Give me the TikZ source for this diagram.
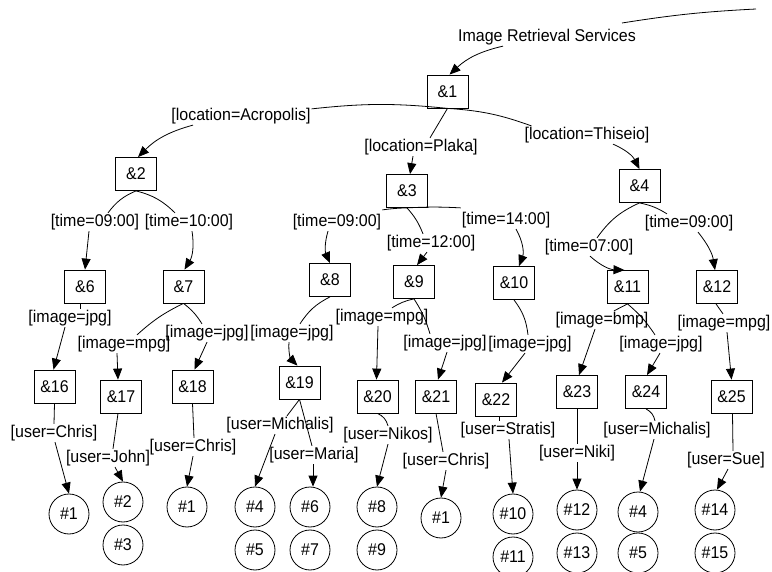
\documentclass[tikz,border=0pt]{standalone}
\usepackage{fontspec}
\setmainfont{Liberation Sans}[FakeStretch=0.94]
\usetikzlibrary{arrows.meta}

\begin{document}
\begin{tikzpicture}[x=1pt,y=1pt,
  every node/.style={font=\fontsize{17}{20}\selectfont},
  obj/.style={draw,line width=0.8pt,minimum width=41pt,minimum height=33pt,inner sep=0pt},
  res/.style={draw,circle,line width=0.8pt,minimum size=40pt,inner sep=0pt},
  lab/.style={inner sep=1pt},
  link/.style={line width=0.8pt},
  arr/.style={line width=0.8pt,-{Triangle[length=11pt,width=9pt]}}]
\fill[white] (0,0) rectangle (772,-572);
\clip (0,0) rectangle (772,-572);

% service root and first level
\coordinate (up1) at (622,-23);
\coordinate (up2) at (756,-9);
\node[lab] (top) at (547,-37) {Image Retrieval Services};
\node[obj] (o1) at (447.5,-91.5) {\&1};
\node[lab] (acro) at (241,-116) {[location=Acropolis]};
\node[lab] (plaka) at (421,-147) {[location=Plaka]};
\node[lab] (thiseio) at (587,-135) {[location=Thiseio]};
\node[obj] (o2) at (136,-174) {\&2};
\node[obj] (o3) at (407,-191) {\&3};
\node[obj] (o4) at (639.5,-186) {\&4};

% time level
\node[lab] (l2a) at (95,-222) {[time=09:00]};
\node[lab] (l2b) at (189,-222) {[time=10:00]};
\node[lab] (l3a) at (337,-222) {[time=09:00]};
\node[lab] (l3b) at (431,-243) {[time=12:00]};
\node[lab] (l3c) at (506,-220) {[time=14:00]};
\node[lab] (l4a) at (589,-247) {[time=07:00]};
\node[lab] (l4b) at (689,-223) {[time=09:00]};
\node[obj] (o6) at (85,-286.5) {\&6};
\node[obj] (o7) at (183.5,-286.5) {\&7};
\node[obj] (o8) at (330,-280) {\&8};
\node[obj] (o9) at (414,-282) {\&9};
\node[obj] (o10) at (514,-283) {\&10};
\node[obj] (o11) at (627.5,-287) {\&11};
\node[obj] (o12) at (717,-287) {\&12};

% image level
\node[lab] (l6) at (70,-318) {[image=jpg]};
\node[lab] (l7a) at (124,-344) {[image=mpg]};
\node[lab] (l7b) at (207,-333) {[image=jpg]};
\node[lab] (l8) at (292,-333) {[image=jpg]};
\node[lab] (l9a) at (382,-317) {[image=mpg]};
\node[lab] (l9b) at (445,-343) {[image=jpg]};
\node[lab] (l10) at (530,-344) {[image=jpg]};
\node[lab] (l11a) at (602,-320) {[image=bmp]};
\node[lab] (l11b) at (661,-344) {[image=jpg]};
\node[lab] (l12) at (724,-323) {[image=mpg]};
\node[obj] (o16) at (54.5,-386.5) {\&16};
\node[obj] (o17) at (121,-396.5) {\&17};
\node[obj] (o18) at (192.5,-386.5) {\&18};
\node[obj] (o19) at (299.5,-382.5) {\&19};
\node[obj] (o20) at (377.5,-396.5) {\&20};
\node[obj] (o21) at (436,-396.5) {\&21};
\node[obj] (o22) at (496,-399.5) {\&22};
\node[obj] (o23) at (577,-392) {\&23};
\node[obj] (o24) at (646,-392) {\&24};
\node[obj] (o25) at (731.5,-396.5) {\&25};

% user level and the images found
\node[lab] (l16) at (54,-433) {[user=Chris]};
\node[lab] (l17) at (108,-458) {[user=John]};
\node[lab] (l18) at (193,-447) {[user=Chris]};
\node[lab] (l19a) at (280,-425) {[user=Michalis]};
\node[lab] (l19b) at (314,-455) {[user=Maria]};
\node[lab] (l20) at (388,-435) {[user=Nikos]};
\node[lab] (l21) at (446,-461) {[user=Chris]};
\node[lab] (l22) at (508,-430) {[user=Stratis]};
\node[lab] (l23) at (577,-453) {[user=Niki]};
\node[lab] (l24) at (657,-430) {[user=Michalis]};
\node[lab] (l25) at (726,-460) {[user=Sue]};
\node[res] (r16) at (69,-514) {\#1};
\node[res] (r17a) at (123,-502) {\#2};
\node[res] (r17b) at (123,-545) {\#3};
\node[res] (r18) at (187,-507) {\#1};
\node[res] (r19a) at (255,-507) {\#4};
\node[res] (r19b) at (255,-550) {\#5};
\node[res] (r19c) at (310,-507) {\#6};
\node[res] (r19d) at (310,-550) {\#7};
\node[res] (r20a) at (377,-507) {\#8};
\node[res] (r20b) at (377,-550) {\#9};
\node[res] (r21) at (441,-518) {\#1};
\node[res] (r22a) at (513,-514) {\#10};
\node[res] (r22b) at (513,-557) {\#11};
\node[res] (r23a) at (577,-510) {\#12};
\node[res] (r23b) at (577,-553) {\#13};
\node[res] (r24a) at (638,-512) {\#4};
\node[res] (r24b) at (638,-553) {\#5};
\node[res] (r25a) at (715,-510) {\#14};
\node[res] (r25b) at (715,-553) {\#15};

% edges: parent -- label, then label -> child
\draw[link] (up1) to[bend left=3] (up2);
\draw[arr] ([xshift=-44]top.south) to[bend right=15] ([xshift=2]o1.north);
\draw[link] ([yshift=-2]acro.north east) to[bend left=6] (o1.south) to[bend left=8] ([xshift=8]thiseio.north west);
\draw[link] (o1.south) -- ([xshift=9]plaka.north);
\draw[arr] ([xshift=-48]acro.south) to[bend right=15] ([xshift=2]o2.north);
\draw[arr] ([xshift=-8]plaka.south) -- ([xshift=3]o3.north);
\draw[arr] ([xshift=26]thiseio.south) to[bend left=20] (o4.north);

\draw[link] (o2.south) to[bend right=15] ([xshift=13]l2a.north);
\draw[link] (o2.south) to[bend left=15] ([xshift=-14]l2b.north);
\draw[link] ([yshift=3]l3a.north east) to[bend left=3] (o3.south) to[bend left=3] ([yshift=3]l3c.north west);
\draw[link] (o3.south) to[bend left=10] ([xshift=-8]l3b.north);
\draw[link] (o4.south) to[bend right=15] ([xshift=8]l4a.north);
\draw[link] (o4.south) to[bend left=10] ([xshift=-22]l4b.north);
\draw[arr] ([xshift=-6]l2a.south) -- (o6.north);
\draw[arr] ([xshift=3]l2b.south) to[bend left=20] ([xshift=1]o7.north);
\draw[arr] ([xshift=-9]l3a.south) to[bend right=20] (o8.north);
\draw[arr] ([xshift=-4]l3b.south) -- ([xshift=3]o9.north);
\draw[arr] ([xshift=10]l3c.south) to[bend left=25] ([xshift=5]o10.north);
\draw[arr] ([xshift=1]l4a.south) to[bend right=20] ([xshift=-3]o11.north);
\draw[arr] ([xshift=9]l4b.south) to[bend left=15] ([xshift=-2]o12.north);

\draw[link] ([xshift=-5]o6.south) -- ([xshift=10]l6.north);
\draw[link] (o7.south) to[bend right=8] ([xshift=13]l7a.north);
\draw[link] (o7.south) to[bend left=10] ([xshift=-5]l7b.north);
\draw[link] (o8.south) to[bend right=15] ([xshift=8]l8.north);
\draw[link] (o9.south) to[bend right=10] ([xshift=10]l9a.north);
\draw[link] (o9.south) to[bend left=8] ([xshift=-15]l9b.north);
\draw[link] (o10.south) to[bend left=15] ([xshift=-2]l10.north);
\draw[link] (o11.south) -- ([xshift=12]l11a.north);
\draw[link] (o11.south) to[bend left=8] ([xshift=-6]l11b.north);
\draw[link] ([xshift=-1]o12.south) -- ([xshift=-1]l12.north);
\draw[arr] ([xshift=-5]l6.south) -- ([xshift=-1]o16.north);
\draw[arr] ([xshift=-7]l7a.south) -- ([xshift=-3]o17.north);
\draw[arr] (l7b.south) -- ([xshift=2]o18.north);
\draw[arr] ([xshift=-3]l8.south) to[bend right=25] ([xshift=-2]o19.north);
\draw[arr] ([xshift=-4]l9a.south) -- ([xshift=-1]o20.north);
\draw[arr] ([xshift=2]l9b.south) -- ([xshift=2]o21.north);
\draw[arr] ([xshift=-5]l10.south) -- ([xshift=6]o22.north);
\draw[arr] ([xshift=-7]l11a.south) -- ([xshift=2]o23.north);
\draw[arr] ([xshift=-1]l11b.south) -- ([xshift=1]o24.north);
\draw[arr] ([xshift=3]l12.south) -- (o25.north);

\draw[link] (o16.south) -- (l16.north);
\draw[link] ([xshift=-3]o17.south) -- ([xshift=5]l17.north);
\draw[link] (o18.south) -- ([xshift=1]l18.north);
\draw[link] (o19.south) -- ([xshift=7]l19a.north);
\draw[link] (o19.south) -- ([xshift=-2]l19b.north);
\draw[link] (o20.south) to[bend left=25] (l20.north);
\draw[link] (o21.south) -- ([xshift=-3]l21.north);
\draw[link] ([xshift=3]o22.south) -- ([xshift=-9]l22.north);
\draw[link] (o23.south) -- (l23.north);
\draw[link] (o24.south) to[bend left=25] ([xshift=-2]l24.north);
\draw[link] ([xshift=1]o25.south) -- ([xshift=7]l25.north);
\draw[arr] ([xshift=1]l16.south) -- (r16.north);
\draw[arr] ([xshift=7]l17.south) -- (r17a.north);
\draw[arr] (l18.south) -- (r18.north);
\draw[arr] ([xshift=-5]l19a.south) -- (r19a.north);
\draw[arr] ([xshift=-1]l19b.south) -- ([xshift=3]r19c.north);
\draw[arr] (l20.south) -- (r20a.north);
\draw[arr] (l21.south) -- (r21.north);
\draw[arr] ([xshift=1]l22.south) -- (r22a.north);
\draw[arr] (l23.south) -- (r23a.north);
\draw[arr] ([xshift=-3]l24.south) -- ([xshift=2]r24a.north);
\draw[arr] ([xshift=2]l25.south) -- ([xshift=2]r25a.north);
\end{tikzpicture}
\end{document}
